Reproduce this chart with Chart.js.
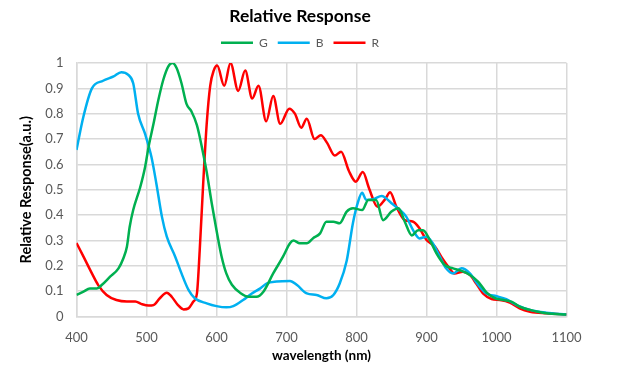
<!DOCTYPE html>
<html>
<head>
<meta charset="utf-8">
<script src="https://cdn.jsdelivr.net/npm/chart.js@4"></script>
<style>
html,body{margin:0;padding:0;background:#fff}
</style>
</head>
<body>
<canvas id="chart" width="617" height="372"></canvas>
<script>

// wavelength (nm) / relative response
const gNm  = [400,410,419,429,436,448,460,467,472,476,481,491,498,503,510,517,524,531,537,543,550,557,564,572,579,586,593,600,607,614,622,634,646,657,667,681,695,705,710,719,729,738,748,757,767,776,786,795,808,817,828,838,850,860,869,879,888,895,905,914,926,938,950,962,974,986,998,1010,1022,1033,1048,1071,1100]
const gVal = [.085,.098,.11,.11,.124,.157,.19,.23,.275,.354,.42,.51,.59,.67,.76,.855,.934,.986,1,.98,.92,.84,.81,.755,.67,.57,.45,.34,.24,.17,.125,.093,.078,.078,.098,.17,.236,.289,.3,.289,.289,.309,.328,.374,.374,.368,.414,.427,.42,.46,.46,.38,.414,.427,.374,.32,.34,.34,.3,.25,.203,.19,.18,.164,.137,.094,.072,.065,.058,.039,.026,.0125,.008]

const bNm  = [400,410,422,438,453,464,474,481,488,498,507,514,522,529,541,550,560,569,586,600,614,624,638,650,662,672,686,705,715,729,743,757,767,776,786,795,802,808,814,824,836,850,862,871,881,890,900,909,919,928,938,950,962,974,986,1000,1014,1029,1048,1071,1100]
const bVal = [.657,.79,.9,.93,.947,.964,.953,.92,.8,.72,.63,.526,.394,.315,.236,.17,.105,.072,.052,.041,.036,.041,.065,.09,.11,.131,.138,.14,.124,.091,.085,.072,.085,.13,.22,.37,.45,.488,.46,.463,.475,.447,.42,.394,.34,.308,.315,.289,.236,.19,.17,.19,.17,.124,.09,.08,.068,.045,.026,.015,.008]

const rNm  = [400,410,422,431,443,457,472,484,493,503,510,519,529,536,545,553,560,567,572,576,581,586,591,596,601,611,620,631,641,651,660,671,681,691,704,712,721,729,740,749,758,769,778,789,799,809,818,830,841,848,857,869,881,890,900,912,921,931,940,952,962,971,981,993,1005,1019,1033,1048,1071,1100]
const rVal = [.29,.236,.17,.124,.085,.065,.059,.059,.049,.043,.045,.072,.094,.078,.045,.028,.032,.059,.09,.26,.525,.76,.91,.97,.99,.91,1,.89,.97,.86,.91,.77,.87,.76,.82,.8,.745,.78,.7,.715,.685,.635,.65,.575,.532,.57,.505,.433,.463,.49,.433,.38,.374,.348,.302,.276,.236,.197,.17,.177,.164,.13,.09,.069,.065,.055,.032,.019,.0125,.008]

const seriesNames = ["G","B","R"]
const seriesColors = ["#00B050","#00B0F0","#FF0000"]

function pts(xs,ys){
return xs.map((x,i)=>({x:x,y:ys[i]}))
}

// push the plot down a bit under the legend
const legendGap = {
id:"legendGap",
beforeInit(chart){
const fit = chart.legend.fit
chart.legend.fit = function(){
fit.call(this)
this.height += 4.3
}
}
}

const ctx = document.getElementById("chart")

const datasets = [pts(gNm,gVal),pts(bNm,bVal),pts(rNm,rVal)].map((d,i)=>({
label:seriesNames[i],
data:d,
borderColor:seriesColors[i],
backgroundColor:seriesColors[i],
borderWidth:2.5,
pointRadius:0,
cubicInterpolationMode:"monotone",
fill:false
}))

const chart = new Chart(ctx,{
type:"line",
data:{datasets:datasets},
plugins:[legendGap],
options:{
responsive:false,
animation:false,
devicePixelRatio:1,
layout:{padding:{left:0,right:17,top:0,bottom:0}},
plugins:{
title:{
display:true,
text:"Relative Response",
color:"#000",
font:{family:"Lato",size:17.5,weight:"bold"},
padding:{top:5.5,bottom:0.2}
},
legend:{
labels:{
usePointStyle:true,
pointStyle:"line",
pointStyleWidth:32,
color:"#595959",
font:{family:"Lato",size:12},
padding:10
}
},
tooltip:{enabled:false}
},
scales:{
x:{
type:"linear",
min:400,
max:1100,
ticks:{stepSize:100,color:"#595959",font:{family:"Lato",size:13},padding:14,maxRotation:0,
callback:v=>String(v)},
grid:{color:"#d9d9d9",lineWidth:1.5,drawTicks:false},
border:{color:"#d9d9d9",width:1.5},
title:{display:true,text:"wavelength (nm)",color:"#000",font:{family:"Lato",size:13.5,weight:"bold"},padding:{top:0,bottom:8}},
afterFit(s){ s.height = 55.5 }
},
y:{
min:0,
max:1,
ticks:{stepSize:0.1,color:"#595959",font:{family:"Lato",size:13},padding:13,
callback:v=>String(Math.round(v*10)/10)},
grid:{color:"#d9d9d9",lineWidth:1.5,drawTicks:false},
border:{color:"#d9d9d9",width:1.5},
title:{display:true,text:"Relative Response(a.u.)",color:"#000",font:{family:"Lato",size:14.5,weight:"bold"},padding:{top:18,bottom:0}},
afterFit(s){ s.width = 76.5 }
},
// empty strip on the right so the plot ends where the original does
yRight:{
position:"right",
min:0,
max:1,
ticks:{display:false},
grid:{display:false,drawOnChartArea:false},
border:{display:false},
afterFit(s){ s.width = 33.5 }
}
}
}
})

</script>
</body>
</html>
